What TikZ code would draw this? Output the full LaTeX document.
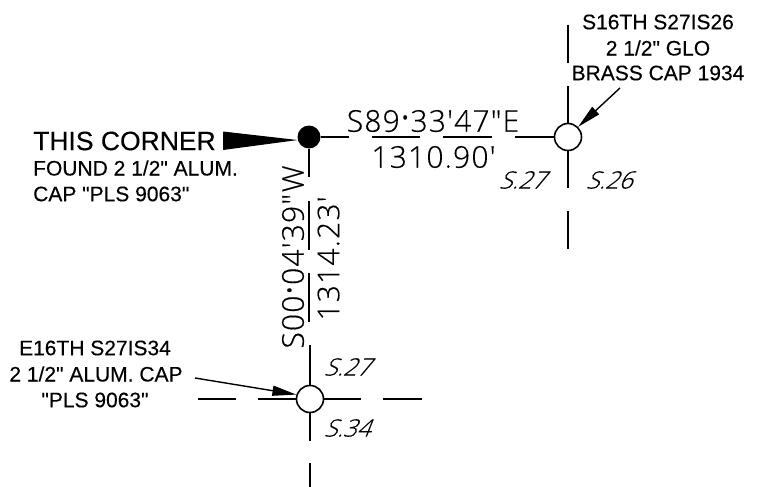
\documentclass[tikz,border=0pt]{standalone}
\usepackage{fontspec}
\usepackage{graphicx}
\usetikzlibrary{arrows.meta}
\newfontfamily\labfont[FakeBold=0.25]{Liberation Sans}
\newfontfamily\cadfont[LetterSpace=4,FakeBold=0.4]{Open Sans Light}
\newfontfamily\caditalic[FakeSlant=0.4,FakeBold=0.5]{Open Sans Light}
\newcommand{\dg}{\raisebox{0.42em}{\scalebox{1.5}{.}}}
\tikzset{
  x=1pt,y=-1pt,
  survey/.style={line width=1.5pt,draw=black},
  mon/.style={circle,draw=black,line width=1.6pt,fill=white,minimum size=27pt,inner sep=0pt},
  found/.style={circle,fill=black,minimum size=23pt,inner sep=0pt},
  lbl/.style={inner sep=0pt,font=\labfont\fontsize{21}{21}\selectfont},
  big/.style={inner sep=0pt,font=\labfont\fontsize{26.5}{26.5}\selectfont},
  bearing/.style={inner sep=0pt,font=\cadfont\fontsize{30}{30}\selectfont},
  sec/.style={inner sep=0pt,font=\caditalic\fontsize{24}{24}\selectfont},
  leader/.style={line width=1.4pt,-{Stealth[length=24pt,width=10pt,inset=0pt]}}
}
\begin{document}
\begin{tikzpicture}
\useasboundingbox (0,0) rectangle (763,487);
% monuments
\node[found] (cor) at (309,137) {};
\node[mon] (ne) at (568,137) {};
\node[mon] (se) at (310,399) {};
% free ends of line work
\coordinate (a1) at (349,137);
\coordinate (a2) at (372,137);
\coordinate (a3) at (420,137);
\coordinate (a4) at (443,137);
\coordinate (a5) at (492,137);
\coordinate (a6) at (515,137);
\coordinate (b1) at (309,177);
\coordinate (b2) at (309,201);
\coordinate (b3) at (309,250);
\coordinate (b4) at (309,273);
\coordinate (b5) at (309,322);
\coordinate (b6) at (310,345);
\coordinate (n1) at (568,25);
\coordinate (n2) at (568,63);
\coordinate (n3) at (568,86);
\coordinate (n4) at (568,188);
\coordinate (n5) at (568,211);
\coordinate (n6) at (568,249);
\coordinate (s1) at (310,441);
\coordinate (s2) at (310,463);
\coordinate (s3) at (310,487);
\coordinate (h1) at (198,399);
\coordinate (h2) at (236,399);
\coordinate (h3) at (258,399);
\coordinate (h4) at (361,399);
\coordinate (h5) at (383,399);
\coordinate (h6) at (422,399);
\coordinate (l1) at (620,88);
\coordinate (l2) at (195,378);
\coordinate (w1) at (223,131.5);
\coordinate (w2) at (223,150);
% line work
\draw[survey] (cor) -- (a1) (a2) -- (a3) (a4) -- (a5) (a6) -- (ne);
\draw[survey] (cor) -- (b1) (b2) -- (b3) (b4) -- (b5) (b6) -- (se);
\draw[survey] (n1) -- (n2) (n3) -- (ne) (ne) -- (n4) (n5) -- (n6);
\draw[survey] (se) -- (s1) (s2) -- (s3);
\draw[survey] (h1) -- (h2) (h3) -- (se) (se) -- (h4) (h5) -- (h6);
% leaders
\fill[black] (w1) -- (w2) -- (cor.195) -- cycle;
\draw[leader] (l1) -- (ne.45);
\draw[leader] (l2) -- (se.162);
% text
\node[big,anchor=west] (t1) at (33,141) {THIS CORNER};
\node[lbl,anchor=west] (t2) at (33,168) {FOUND 2 1/2" ALUM.};
\node[lbl,anchor=west] (t3) at (33,194) {CAP "PLS 9063"};
\node[lbl] (t4) at (658,22) {S16TH S27IS26};
\node[lbl] (t5) at (658,48) {2 1/2" GLO};
\node[lbl] (t6) at (658,73) {BRASS CAP 1934};
\node[lbl] (t7) at (95,348) {E16TH S27IS34};
\node[lbl] (t8) at (96,374) {2 1/2" ALUM. CAP};
\node[lbl] (t9) at (95,400) {"PLS 9063"};
\node[bearing] (b1t) at (433,121) {S89\dg33'47"E};
\node[bearing] (b2t) at (433.5,157) {1310.90'};
\node[bearing,rotate=90] (b3t) at (293,257) {S00\dg04'39"W};
\node[bearing,rotate=90] (b4t) at (328.5,258.5) {1314.23'};
\node[sec] (s27a) at (522,180) {S.27};
\node[sec] (s26) at (609,180) {S.26};
\node[sec] (s27b) at (347,367) {S.27};
\node[sec] (s34) at (347,428) {S.34};
\end{tikzpicture}
\end{document}
